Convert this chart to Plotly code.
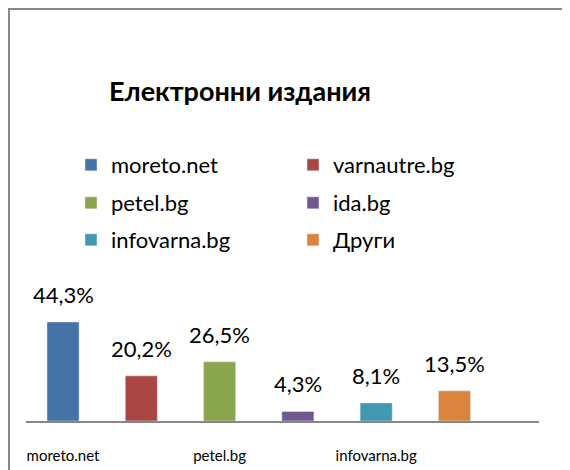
import plotly.graph_objects as go

categories = ["moreto.net", "varnautre.bg", "petel.bg", "ida.bg", "infovarna.bg", "Други"]
values = [44.3, 20.2, 26.5, 4.3, 8.1, 13.5]
labels = ["44,3%", "20,2%", "26,5%", "4,3%", "8,1%", "13,5%"]
colors = ["#4572A7", "#AA4643", "#89A54E", "#71588F", "#4198AF", "#DB843D"]
tick_idx = [0, 2, 4]
title_text = "Електронни издания"

FONT = "Lato"
OFF = 8  # default page body margin
W, H = 570 - OFF, 470 - OFF
L, R, T, B = 18, 31, 301, 49
PH = H - T - B
PW = W - L - R

fig = go.Figure()
legend_ids = ["legend", "legend", "legend2", "legend2", "legend3", "legend3"]
for i, (c, v, col) in enumerate(zip(categories, values, colors)):
    fig.add_trace(go.Bar(
        x=[i], y=[v], name=c, marker_color=col, width=0.41,
        legend=legend_ids[i], showlegend=True, hoverinfo="skip",
    ))
    fig.add_annotation(x=i, y=v, text=labels[i], showarrow=False,
                       xanchor="center", yanchor="bottom", yshift=12,
                       font=dict(family=FONT, size=22, color="#000000"))

row_y = [165 - OFF, 203 - OFF, 240 - OFF]
legend_common = dict(orientation="h", xref="container", x=63 / W, xanchor="left",
                     yref="container", yanchor="middle",
                     entrywidth=177, entrywidthmode="pixels",
                     font=dict(family=FONT, size=22, color="#000000"),
                     bgcolor="rgba(0,0,0,0)", itemclick=False, itemdoubleclick=False)


def ly(px):
    return 1 - px / H


fig.update_layout(
    width=W, height=H,
    margin=dict(l=L, r=R, t=T, b=B, autoexpand=False),
    paper_bgcolor="white", plot_bgcolor="white",
    showlegend=True,
    title=dict(text="<b>" + title_text + "</b>", x=(240 - OFF) / W, xanchor="center",
               xref="container", yref="container", y=ly(92 - OFF), yanchor="middle",
               font=dict(family=FONT, size=27, color="#000000")),
    legend=dict(legend_common, y=ly(row_y[0])),
    legend2=dict(legend_common, y=ly(row_y[1])),
    legend3=dict(legend_common, y=ly(row_y[2])),
    xaxis=dict(range=[-0.473, 6.08], tickvals=tick_idx,
               ticktext=[categories[i] for i in tick_idx],
               tickangle=0, automargin=False,
               showline=True, linecolor="#878787", linewidth=2,
               showgrid=False, zeroline=False, ticks="",
               ticklabelstandoff=20,
               tickfont=dict(family=FONT, size=15, color="#000000")),
    yaxis=dict(range=[0, PH / 2.235], visible=False, showgrid=False,
               zeroline=False, automargin=False),
    bargap=0.59,
    shapes=[dict(type="path", xref="paper", yref="paper",
                 path="M {x0},{y1} L {x0},{y0} L {x2},{y0}".format(
                     x0=(9 - OFF - L) / PW,
                     y0=(H - B - (9 - OFF)) / PH,
                     y1=(H - B - 480) / PH,
                     x2=(600 - L) / PW),
                 line=dict(color="#878787", width=2))],
)

fig.write_html("out.html")
